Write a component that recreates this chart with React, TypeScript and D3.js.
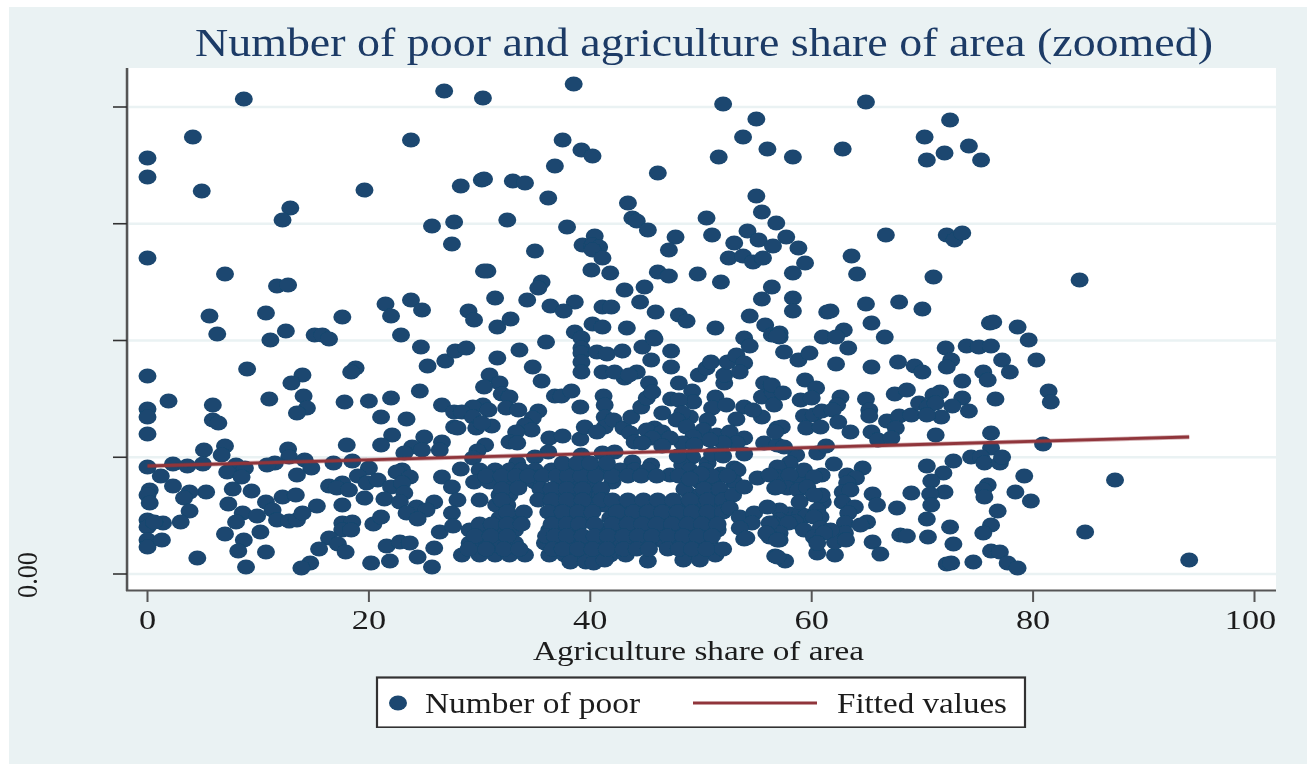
import React from "react";
import * as d3 from "d3";

const titleText = "Number of poor and agriculture share of area (zoomed)";
const xAxisLabel = "Agriculture share of area";
const legendLabels = ["Number of poor", "Fitted values"];
const xTicks = [0, 20, 40, 60, 80, 100];
const yTicks = [0, 116.75, 233.5, 350.25, 467];
const yTickLabels = ["0.00", "", "", "", ""];
const fittedLine: [number, number][] = [[0, 108], [94.1, 137]];

// [agriculture share of area, number of poor (arbitrary unit, the axis is unlabelled)]
const upperPoints: [number, number][] = [
[8.7,475],[26.8,483],[30.3,476],[38.5,490],[52,470],[55,455],[64.9,472],[4.1,437],[0,416],[0,397],[4.9,383],[23.8,434],[37.5,434],[39.2,424],[40.2,418],[36.8,408],[53.8,437],[51.6,417],[56,425],[58.3,417],[62.8,425],[70.2,437],[72.5,454],[70.4,414],[72,421],[74.2,428],[75.3,414],[19.6,384],[28.3,388],[30.2,394],[30.4,395],[33,393],[34.1,391],[36.2,376],[46.1,401],[43.4,371],[55,378],[55.5,362],[56.8,351],[50.5,356],[51,339],[54.2,343],[55.2,334],[57.7,337],[56.5,328],[58.8,326],[53,331],[52.5,316],[53.8,318],[54.7,312],[55.6,316],[59.4,311],[58.3,301],[63.6,318],[64.1,300],[43.8,356],[44.2,353],[45.2,344],[47.7,337],[47.1,324],[27.7,352],[32.5,354],[37.9,347],[27.5,330],[35,323],[40.4,338],[39.3,329],[40.2,329],[40.8,327],[40.2,324],[41.1,316],[40.1,304],[41.8,301],[30.7,303],[30.4,303],[46.1,302],[47.1,298],[49.7,300],[51.8,292],[56.4,287],[55.5,275],[58.3,276],[58.3,263],[61.4,262],[61.7,263],[54.4,258],[55.8,249],[56.4,239],[57.1,237],[61,237],[62.9,244],[62.2,237],[53.9,236],[51.3,246],[48,259],[48.7,253],[45.9,262],[44.5,272],[43.1,284],[44.9,287],[43.3,246],[45.7,237],[31.4,276],[34.3,274],[35.6,292],[35.3,286],[36.4,268],[38.6,272],[37.6,263],[41.1,267],[41.9,267],[29,263],[29.5,254],[31.6,247],[32.8,255],[40.2,250],[41.1,247],[38.6,242],[39.2,236],[36,232],
[84.2,294],[64.9,270],[67.9,272],[70,265],[71,297],[66.7,339],[72.2,339],[72.9,334],[73.6,341],
];

const leftPoints: [number, number][] = [
[12.9,366],[12.2,354],[25.7,348],[0,316],[7,300],[11.7,288],[12.7,289],[21.5,270],[23.8,274],[24.8,264],[22,258],[5.6,258],[10.7,261],[17.6,257],[6.3,240],[11.1,234],[12.5,243],[15.1,239],[15.8,239],[16.4,235],[22.9,239],[24.7,227],[25.3,208],[26.9,213],[27.8,223],[0,198],[9,205],[14,199],[13,191],[18.8,206],[18.4,202],[1.9,173],[5.9,169],[5.9,154],[6.4,151],[11,175],[14.1,178],[14.4,166],[13.5,161],[0,165],[0,157],[0,140],[17.8,172],[20,173],[22,176],[24.6,183],[21.1,157],[23.4,155],[26.6,169],[27.7,162],[27.7,147],[22.1,139],[21.1,129],[18,129],[25,137],[26.6,132],[23.9,127],[23.2,121],[24.8,124],[26.4,124],[5.1,124],[7,128],[6.7,119],[12.7,125],[12.8,117],[14.2,114],[14.8,106],[13.5,99],[11.5,111],[10.8,109],[8,109],[7.2,102],[8.8,106],[8.5,97],[0,107],[1.2,98],[2.3,110],[3.6,108],[5,110],[16.8,111],[18.5,113],[20,106],[19,98],[2.3,88],[0.2,84],[0,79],[0.2,71],[7.7,85],[9.4,83],[5.3,82],[3.8,82],[3.3,76],[7.3,70],[3.8,63],[10.7,72],[12.2,77],[13.4,79],[15.3,68],[16.4,88],[17.6,91],[17.1,86],[18.2,84],[19.8,91],[20.8,94],[22,87],[17.6,69],[19.6,76],[21.4,75],[23,104],[22.5,102],[23.7,97],[23,91],[23.2,81],[22.8,72],[24.3,67],[25.9,72],[25.2,64],[23.4,61],[24.4,55],[26.6,97],[27.5,87],[28,74],[27.5,61],[8.6,61],[9.9,58],[8,52],[11.3,64],[11.7,54],[12.8,53],[13.5,54],[14,61],[17.6,51],[18.5,52],[17.6,44],[18.4,44],[20.4,50],[21.1,57],[0,54],[0,47],[1.4,51],[3,52],[0.6,52],[26.4,42],[27.6,48],[0,34],[0,27],[1.3,34],[7,40],[8.7,34],[8.2,23],[10.2,42],[10.7,22],[4.5,16],[8.9,7],[16.4,36],[17.2,30],[17.9,22],[15.5,25],[14.7,11],[13.9,6],[20.2,11],[21.9,13],[21.6,28],[22.8,32],[23.7,31],[25.9,26],[24.4,17],[25.7,7],
];

const middleUpperPoints: [number, number][] = [
[28.8,226],[39.2,226],[39.2,221],[39.2,212],[39.2,202],[40.6,222],[41.5,220],[42.9,223],[44.7,227],[45.8,235],[47.3,223],[45.5,214],[47.3,207],[33.6,224],[31.6,216],[34.8,207],[35.6,193],[30.9,199],[31.8,191],[30.4,187],[32,180],[32.7,177],[32.4,166],[33.5,164],[30.3,169],[29.4,167],[30.8,164],[28.4,162],[29.4,157],[28,146],[29.7,146],[31.1,148],[30.2,151],[35.3,163],[34.8,156],[34.1,149],[34.7,144],[33.3,142],[32.7,132],[33.4,131],[36.3,136],[37.5,138],[39.1,135],[39.5,147],[36.8,178],[37.4,178],[38.3,183],[39.1,167],[41.2,178],[41.3,169],[41.3,157],[41.3,147],[40.6,142],[42.1,154],[43,146],[43.6,141],[44,132],[43.7,157],[44.6,167],[45.1,176],[45.3,191],[45.6,182],[44.2,202],[43.1,196],[41.1,202],[42.2,202],[43.5,199],[46.5,161],[47.3,175],[48,191],[49.2,183],[49.3,172],[48,174],[49.8,199],[50.5,206],[50.9,212],[52.1,191],[52.1,199],[52.4,212],[53.2,219],[53.9,211],[53.5,202],[54.4,228],[57.1,241],[55.7,191],[55.5,177],[56.5,182],[56.6,169],[51.3,177],[51,166],[52.3,169],[53.9,167],[55.5,157],[54.7,164],[53.2,155],[50.6,154],[49,157],[48.3,161],[47.8,154],[48.7,147],[50.2,144],[51.4,139],[52.6,142],[53.9,136],[53.2,131],[52,131],[50.8,134],[49.3,137],[48.3,131],[49.4,129],[55.7,131],[56.9,146],[56.9,129],[45.8,146],[45.1,144],[46.5,142],[47.2,136],[45.6,136],[46.5,128],[44.7,131],[41.1,121],[42.2,122],[39.2,119],[36.2,122],[35,117],[33.4,111],[30.5,129],[29.8,123],[28.3,105],[29.4,116],[53.9,120],[53,106],[51.8,100],[50.6,111],[49.2,117],[48.3,109],[43.8,112],[45.5,109],[47.2,99],
];

const denseMiddlePoints: [number, number][] = [
[30,104],[31.4,104],[32.7,104],[33.8,104],[35,104],[36.5,104],[37.7,104],[38.6,104],[39.9,104],[41.3,104],[42.7,104],[44,104],[45.2,104],[49,104],[50.4,104],[53.3,104],
[29.5,92],[30.9,92],[32.3,92],[33.7,92],[35,92],[37.2,92],[38.6,92],[40,92],[42,92],[49.9,92],[51.2,92],[53,92],
[31.8,79],[32.7,79],[35.9,79],[37.2,79],[38.6,79],[40,79],[40.9,79],[49,79],[49.9,79],[51.3,79],[30,74],
[31.5,69],[32.5,69],[37.2,69],[38.6,69],[40,69],[41.3,69],[42.7,69],[44,69],[45.4,69],[46.8,69],[48.1,69],[49.9,69],[51.3,69],
[31.8,56],[33.2,56],[36.8,56],[38.2,56],[39.5,56],[41.8,56],[43.2,56],[44.6,56],[45.9,56],[47.2,56],[48.6,56],[49.9,56],[51.3,56],
[29.1,44],[30.5,44],[31.8,44],[33.2,44],[36.3,44],[37.2,44],[38.6,44],[40.9,44],[42.2,44],[43.6,44],[44.9,44],[46.3,44],[47.6,44],[49,44],[50.3,44],[51.5,44],
[29.1,31],[30.2,31],[31.8,31],[33.2,31],[35.9,31],[37.2,31],[38.6,31],[40,31],[41.3,31],[42.7,31],[44,31],[45.4,31],[46.8,31],[48.1,31],[49.4,31],[50.8,31],
[28.4,19],[30,19],[31.4,19],[32.7,19],[34.1,19],[36.3,19],[37.7,19],[39,19],[40.4,19],[41.8,19],[43.2,19],[48.6,19],[49.9,19],[51.3,19],
[38.2,12],[39.6,12],[40.3,11],[41.3,14],[45.2,13],[48.4,14],[49.9,14],[53.9,35],
];

const denseFillPoints: [number, number][] = [
[30.6,98],[32,98],[33.3,98],[34.4,98],[35.7,98],[37,98],[38,98],[39.2,98],[40.5,98],[42,98],[43.4,98],[44.6,98],[46,98],[48,98],[49.7,98],[51,98],[52.4,98],
[32,85],[33.5,86],[35.5,85],[36.5,85],[37.9,85],[39.3,85],[41,85],[48.5,85],[50.3,85],[51.7,85],
[32,74],[35.3,74],[36.5,74],[37.9,74],[39.3,74],[41,74],[42,74],[43.4,74],[44.8,74],[46.1,74],[47.5,74],[49,74],[50.6,74],[52,74],
[32.5,62],[34,62],[36.2,62],[37.5,62],[38.9,62],[40.2,62],[42.4,62],[43.9,62],[45.2,62],[46.5,62],[47.9,62],[49.2,62],[50.6,62],[52,62],
[30,50],[31.1,50],[32.5,50],[33.8,50],[36.5,50],[37.9,50],[39,50],[40.4,50],[42,50],[43.4,50],[44.7,50],[46,50],[47.4,50],[48.8,50],[50.1,50],[51.5,50],
[29.6,38],[31,38],[32.5,38],[36,38],[36.8,38],[37.9,38],[39.3,38],[40.4,38],[41.6,38],[43,38],[44.3,38],[45.6,38],[47,38],[48.4,38],[49.7,38],[51,38],
[29,25],[30.6,25],[32.2,25],[33.6,25],[36.6,25],[37.5,25],[38.9,25],[40.2,25],[41.5,25],[43,25],[44.2,25],[45.3,25],[47,25],[48,25],[49.2,25],[50.5,25],[52,25],
[37.5,111],[38.8,111],[40,111],[41.5,111],[47.9,118],[51,120],[52,118],[50,100],[49,95],
[58,92],[59,93],[58,60],[59,60],[61,72],[59.5,58],
];

const rightPoints: [number, number][] = [
[56.9,238],[65.4,251],[66.6,237],[76.1,251],[76.4,252],[78.6,247],[79.6,234],[57.5,222],[58.8,214],[59.8,221],[63.3,226],[62.2,210],[65.4,207],[67.8,212],[69.3,208],[70,202],[72.1,226],[74,228],[75.1,227],[76.2,228],[72.6,214],[72.2,207],[77.2,214],[80.3,214],[75.5,202],[75.9,194],[77.9,202],[73.6,193],[59.4,194],[60.4,186],[56.4,189],[57.4,181],[59,174],[60,176],[62.6,177],[62.3,169],[64.9,175],[67.5,180],[68.6,184],[71.6,182],[71,179],[73.6,176],[72.7,168],[76.6,175],[81.4,183],[81.6,172],[74.2,163],[59.3,158],[60.2,159],[60.9,163],[61.9,164],[62.4,152],[63.5,142],[65.2,164],[65.2,158],[59.5,146],[60.8,147],[57.3,147],[56.7,142],[66.8,153],[67.9,158],[69,159],[69.7,171],[70.5,167],[71.2,171],[71.7,157],[70.4,159],[67.6,146],[65.4,142],[66,134],[67.2,136],[71.2,139],[76.2,141],[80.9,130],[76.2,126],[74.4,117],[75.3,117],[75.6,111],[77,111],[77.2,117],[72.8,113],[70.4,108],[71.9,101],[70.8,93],[79.2,98],[87.4,94],[75.9,89],[75.5,84],[75.6,77],[78.4,82],[79.8,73],[72,82],[70.7,80],[69,81],[65.5,80],[65.9,69],[67.7,66],[70.8,69],[76.8,63],[70.4,55],[72.5,47],[76.2,49],[75.5,41],[84.7,42],[68,39],[68.6,38],[70.5,37],[72.8,30],[65.5,32],[66.2,20],[76.2,23],[77,22],[74.6,12],[72.2,10],[72.6,11],[77.7,11],[78.6,6],[94.1,14],[62.1,19],[60.5,21],[57.6,13],[56.7,18],
[64.6,106],[63.2,99],[64,96],[63.2,91],[62.8,82],[63.5,84],[62.8,72],[63.9,67],[63.3,61],[63,51],[65,52],[64.4,49],[63,41],[62.1,32],[63.1,34],
[62,110],[60.9,99],[60.5,121],[61.3,128],[58.6,119],[57.5,127],[58,111],[56.9,107],[59.3,104],[60.2,97],[56.9,97],[58,99],[56.7,86],[57.8,86],[58.8,84],[59.6,87],[60.9,79],[60.2,79],[58.9,72],[57.1,64],[60.5,64],[60.8,57],[60.2,57],[57.1,54],[58.5,52],[56.5,51],[57.9,51],[59.3,44],[60.8,46],[61.7,44],[60.2,37],[61.1,41],[57.1,41],[56.2,37],[57.1,34],[60.5,31],
[52.9,79],[53.9,87],[55.1,96],[56.2,99],[52.6,66],[53.5,57],[54.8,61],[54.6,51],[56,67],[56.2,51],[53.5,46],[54.1,36],[56.9,17],[55.9,41],[56.9,34],[56.9,87],
];

const allPoints = [...upperPoints, ...leftPoints, ...middleUpperPoints, ...denseMiddlePoints, ...denseFillPoints, ...rightPoints];

const W = 1307, H = 764;
const NAVY = "#1a476f", MAROON = "#90353b", PANEL = "#eaf2f3", INK = "#1c1c1c";
const SERIF = "'Liberation Serif', 'Times New Roman', serif";
const DOT_RX = 9, DOT_RY = 7.6;

const xScale = d3.scaleLinear().domain([0, 100]).range([147.5, 1254.5]);
const yScale = d3.scaleLinear().domain([0, 467]).range([574, 107]);
const lineGen = d3.line<[number, number]>().x(d => xScale(d[0])).y(d => yScale(d[1]));

const xTickWidth = (t: number) => String(t).length * 15.6;

export default function App() {
  return (
    <svg width={W} height={H} viewBox={`0 0 ${W} ${H}`} style={{ position: "absolute", left: 0, top: 0, background: "#fff" }} fontFamily={SERIF}>
      <defs>
        <filter id="soft" x="0" y="0" width="100%" height="100%">
          <feGaussianBlur stdDeviation="0.55" />
        </filter>
      </defs>
      <rect x={9} y={7} width={W - 9} height={H - 7} fill={PANEL} />
      <rect x={129} y={68} width={1147} height={522} fill="#fff" />
      <g filter="url(#soft)">
        {yTicks.map((t) => (
          <line key={t} x1={129} x2={1276} y1={yScale(t)} y2={yScale(t)} stroke={PANEL} strokeWidth={2.5} />
        ))}
        <text x={195} y={56} fontSize={41} fill="#1c3a66" textLength={1018} lengthAdjust="spacingAndGlyphs">{titleText}</text>

        {allPoints.map((d, i) => (
          <ellipse key={i} cx={xScale(d[0])} cy={yScale(d[1])} rx={DOT_RX} ry={DOT_RY} fill={NAVY} />
        ))}
        <path d={lineGen(fittedLine) ?? ""} fill="none" stroke={MAROON} strokeOpacity={0.4} strokeWidth={4.5} />
        <path d={lineGen(fittedLine) ?? ""} fill="none" stroke={MAROON} strokeWidth={2.8} />

        {/* y axis */}
        <line x1={127} x2={127} y1={68} y2={591} stroke="#555" strokeWidth={2.5} />
        {yTicks.map((t, i) => (
          <g key={t}>
            <line x1={113} x2={127} y1={yScale(t)} y2={yScale(t)} stroke="#333" strokeWidth={1.6} />
            {yTickLabels[i] && (
              <text transform={`translate(37,${yScale(t) + 1}) rotate(-90)`} textAnchor="middle" fontSize={29} fill={INK} textLength={46} lengthAdjust="spacingAndGlyphs">{yTickLabels[i]}</text>
            )}
          </g>
        ))}

        {/* x axis */}
        <line x1={126} x2={1276} y1={590.5} y2={590.5} stroke="#555" strokeWidth={2} />
        {xTicks.map((t) => (
          <g key={t}>
            <line x1={xScale(t)} x2={xScale(t)} y1={590} y2={602} stroke="#555" strokeWidth={2} />
            <text x={xScale(t) - (t === 100 ? 4 : 0)} y={629} textAnchor="middle" fontSize={27} fill={INK} textLength={xTickWidth(t) * 1.1} lengthAdjust="spacingAndGlyphs">{t}</text>
          </g>
        ))}
        <text x={533} y={660} fontSize={27} fill={INK} textLength={331} lengthAdjust="spacingAndGlyphs">{xAxisLabel}</text>

        {/* legend */}
        <rect x={377} y={677.5} width={648} height={50} fill="#fff" stroke="#333" strokeWidth={2.2} />
        <ellipse cx={398} cy={703} rx={DOT_RX} ry={DOT_RY} fill={NAVY} />
        <text x={425} y={713} fontSize={29} fill={INK} textLength={215} lengthAdjust="spacingAndGlyphs">{legendLabels[0]}</text>
        <line x1={693} x2={817} y1={703} y2={703} stroke={MAROON} strokeWidth={2.8} />
        <text x={837} y={713} fontSize={29} fill={INK} textLength={170} lengthAdjust="spacingAndGlyphs">{legendLabels[1]}</text>
      </g>
    </svg>
  );
}
